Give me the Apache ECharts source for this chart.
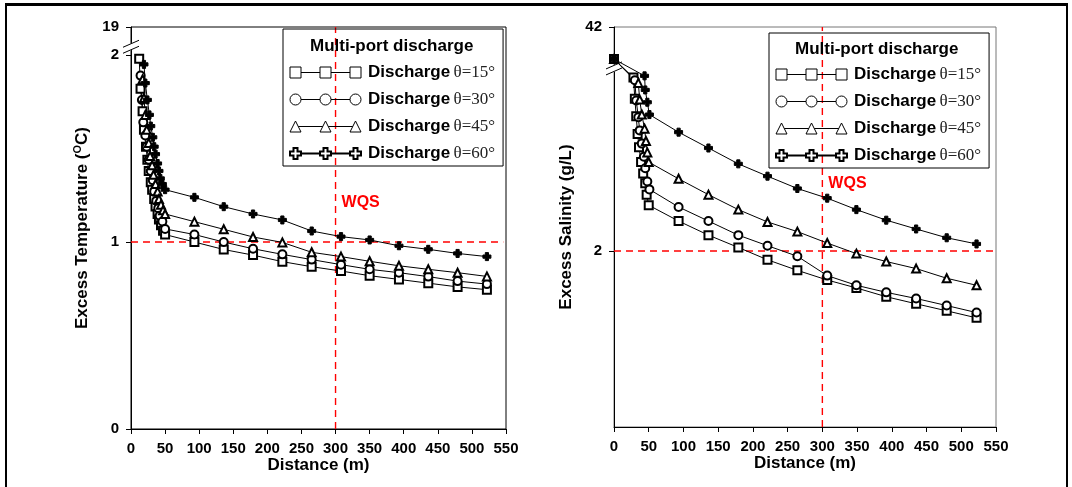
<!DOCTYPE html>
<html><head><meta charset="utf-8">
<script src="https://cdn.jsdelivr.net/npm/echarts@6/dist/echarts.min.js"></script>
<style>
html,body{margin:0;padding:0;background:#fff;overflow:hidden;}
#frame{position:absolute;left:5px;top:3px;width:1063px;height:540px;box-sizing:border-box;border:2px solid #000;border-top-width:3px;border-bottom:none;}
#chart{position:absolute;left:0;top:0;width:1072px;height:487px;}
</style></head><body>
<div id="frame"></div><div id="chart"></div>
<script>
// ---------- data (distance m, value) ----------
const seriesNames = ['Discharge θ=15°', 'Discharge θ=30°', 'Discharge θ=45°', 'Discharge θ=60°'];
const xTicks = [0, 550, 50];                 // min, max, step of distance axis
const tempTickLabels = ['0', '1', '2', '19'];
const salTickLabels = ['2', '42'];

const temp15 = [[12,1.98],[14,1.82],[17,1.70],[19,1.60],[22,1.51],[24,1.44],[26,1.38],[29,1.32],[31,1.28],[34,1.23],[36,1.19],[39,1.15],[41,1.12],[44,1.09],[47,1.06],[50,1.04],[93,1.00],[136,0.96],[179,0.93],[222,0.895],[265,0.868],[308,0.845],[350,0.82],[393,0.80],[436,0.78],[479,0.76],[522,0.745]];
const temp30 = [[14,1.89],[16,1.76],[18,1.64],[21,1.57],[23,1.51],[26,1.44],[29,1.38],[32,1.33],[34,1.27],[37,1.22],[40,1.18],[42,1.14],[46,1.11],[50,1.07],[93,1.04],[136,1.00],[179,0.964],[222,0.934],[265,0.906],[308,0.879],[350,0.854],[393,0.836],[436,0.815],[479,0.791],[522,0.775]];
const temp45 = [[17,1.87],[19,1.77],[21,1.68],[23,1.60],[26,1.53],[28,1.46],[31,1.41],[33,1.36],[36,1.31],[39,1.27],[41,1.23],[44,1.20],[47,1.17],[50,1.15],[93,1.109],[136,1.068],[179,1.027],[222,0.998],[265,0.945],[308,0.922],[350,0.897],[393,0.873],[436,0.854],[479,0.836],[522,0.816]];
const temp60 = [[19,1.95],[21,1.85],[24,1.76],[27,1.68],[29,1.62],[32,1.56],[34,1.51],[36,1.47],[39,1.42],[41,1.38],[43,1.34],[46,1.31],[50,1.28],[93,1.239],[136,1.189],[179,1.15],[222,1.118],[265,1.059],[308,1.029],[350,1.011],[393,0.98],[436,0.961],[479,0.939],[522,0.922]];

const sal15 = [[0,4.18],[28,3.97],[30,3.73],[32,3.53],[34,3.33],[36,3.18],[39,3.01],[42,2.88],[45,2.77],[47,2.64],[50,2.52],[93,2.34],[136,2.18],[179,2.04],[221,1.90],[264,1.78],[307,1.67],[349,1.58],[392,1.48],[435,1.40],[479,1.32],[522,1.24]];
const sal30 = [[0,4.18],[30,3.94],[32,3.71],[35,3.52],[37,3.37],[40,3.22],[43,3.07],[45,2.94],[48,2.79],[51,2.70],[93,2.50],[136,2.34],[179,2.18],[221,2.06],[264,1.94],[307,1.72],[349,1.61],[392,1.53],[435,1.46],[479,1.38],[522,1.30]];
const sal45 = [[0,4.18],[35,3.91],[37,3.72],[40,3.55],[44,3.39],[46,3.25],[48,3.12],[50,3.01],[93,2.82],[136,2.64],[179,2.47],[221,2.33],[264,2.22],[307,2.09],[349,1.97],[392,1.88],[435,1.80],[479,1.69],[522,1.61]];
const sal60 = [[0,4.18],[44,3.99],[45,3.83],[48,3.69],[51,3.55],[93,3.35],[136,3.17],[179,2.99],[221,2.85],[264,2.71],[307,2.60],[349,2.47],[392,2.35],[435,2.25],[479,2.15],[522,2.08]];

const tempAxisTicks = [0, 1, 2, 2.15];     // 2.15 = top of broken axis (labelled 19)
const salAxisTicks = [2, 4.545];           // 4.545 = top of broken axis (labelled 42)
const wqsX = 300, wqsTemp = 1, wqsSal = 2;
const wqsHorizEnd = [546, 546];            // horizontal WQS line end (distance)
const wqsLabelTemp = [300, 1.21], wqsLabelSal = [300, 2.77];
const breakTemp = 2.047, breakSal = 4.08;
// -----------------------------------------------

const FONT = '"Liberation Sans", Arial, sans-serif';
const SERIF = '"Liberation Serif", "Times New Roman", serif';
const PLUS = 'path://M3,0H7V3H10V7H7V10H3V7H0V3H3Z';
const symbols = ['emptyRect', 'emptyCircle', 'emptyTriangle', PLUS];
const symSizes = [8, 8, 8, 8];
const RED = '#ff0000';

const legendIcons = [
  'path://M0,0H11V11H0Z M11,5.5H30 M30,0H41V11H30Z M41,5.5H60 M60,0H71V11H60Z',
  'path://M0,5.5A5.5,5.5 0 1 0 11,5.5A5.5,5.5 0 1 0 0,5.5Z M11,5.5H30 M30,5.5A5.5,5.5 0 1 0 41,5.5A5.5,5.5 0 1 0 30,5.5Z M41,5.5H60 M60,5.5A5.5,5.5 0 1 0 71,5.5A5.5,5.5 0 1 0 60,5.5Z',
  'path://M0,11L5.5,0L11,11Z M8.25,5.5H32.75 M30,11L35.5,0L41,11Z M38.25,5.5H62.75 M60,11L65.5,0L71,11Z',
  'path://M3.5,0H7.5V3.5H11V7.5H7.5V11H3.5V7.5H0V3.5H3.5Z M11,5.5H30 M33.5,0H37.5V3.5H41V7.5H37.5V11H33.5V7.5H30V3.5H33.5Z M41,5.5H60 M63.5,0H67.5V3.5H71V7.5H67.5V11H63.5V7.5H60V3.5H63.5Z'
];

function mkSeries(name, data, gi, k) {
  return {
    type: 'line', name, data, xAxisIndex: gi, yAxisIndex: gi,
    symbol: symbols[k], symbolSize: symSizes[k], showSymbol: true,
    lineStyle: { color: '#000', width: 1 },
    itemStyle: { color: '#000', borderColor: '#000', borderWidth: 1 },
    emphasis: { disabled: true }, silent: true, z: 3
  };
}

function wqsSeries(gi, yVal, yMax, hEnd, labelCoord) {
  const base = {
    type: 'line', xAxisIndex: gi, yAxisIndex: gi, symbol: 'none', silent: true,
    lineStyle: { color: RED, type: [7, 5], width: 1.4 }, itemStyle: { color: RED },
    emphasis: { disabled: true }, z: 2
  };
  return [
    Object.assign({}, base, { name: 'WQS-v' + gi, data: [[wqsX, 0], [wqsX, yMax]],
      markPoint: {
        silent: true, symbol: 'circle', symbolSize: 0,
        data: [{ coord: labelCoord }],
        label: { show: true, position: 'right', distance: 6, formatter: 'WQS',
          color: RED, fontWeight: 'bold', fontSize: 16, fontFamily: FONT }
      } }),
    Object.assign({}, base, { name: 'WQS-h' + gi, data: [[0, yVal], [hEnd, yVal]] })
  ];
}

const tempData = [temp15, temp30, temp45, temp60];
const salData = [sal15, sal30, sal45, sal60];
const series = [];
series.push(...wqsSeries(0, wqsTemp, tempAxisTicks[tempAxisTicks.length - 1], wqsHorizEnd[0], wqsLabelTemp));
series.push(...wqsSeries(1, wqsSal, salAxisTicks[salAxisTicks.length - 1], wqsHorizEnd[1], wqsLabelSal));
tempData.forEach((d, k) => series.push(mkSeries(seriesNames[k], d, 0, k)));
salData.forEach((d, k) => series.push(mkSeries(seriesNames[k], d, 1, k)));

function xAxisCfg(gi) {
  return {
    type: 'value', gridIndex: gi, min: xTicks[0], max: xTicks[1], interval: xTicks[2],
    axisLine: { show: true, onZero: false, lineStyle: { color: '#000', width: 1 } },
    axisTick: { show: true, inside: false, length: 5, lineStyle: { color: '#000' } },
    axisLabel: { color: '#000', fontFamily: FONT, fontWeight: 'bold', fontSize: 15, margin: 12,
      showMinLabel: true, showMaxLabel: true },
    splitLine: { show: false },
    name: 'Distance (m)', nameLocation: 'middle', nameGap: 28, nameMoveOverlap: false,
    nameTextStyle: { color: '#000', fontFamily: FONT, fontWeight: 'bold', fontSize: 17 }
  };
}
function yAxisCfg(gi, max, ticks, labels, name, interval) {
  return {
    type: 'value', gridIndex: gi, min: 0, max: max, interval: interval,
    axisLine: { show: true, onZero: false, lineStyle: { color: '#000', width: 1 } },
    axisTick: { show: true, length: 5, customValues: ticks, lineStyle: { color: '#000' } },
    axisLabel: { color: '#000', fontFamily: FONT, fontWeight: 'bold', fontSize: 15, margin: 12,
      customValues: ticks,
      formatter: v => { const i = ticks.findIndex(t => Math.abs(t - v) < 1e-6); return i >= 0 ? labels[i] : ''; } },
    splitLine: { show: false },
    name: name, nameLocation: 'middle', nameGap: 39, nameMoveOverlap: false,
    nameTextStyle: { color: '#000', fontFamily: FONT, fontWeight: 'bold', fontSize: 17,
      rich: { s: { fontFamily: FONT, fontWeight: 'bold', fontSize: 11, verticalAlign: 'top', lineHeight: 20 } } }
  };
}

function legendCfg(left, top, padding) {
  return {
    show: true, orient: 'vertical', left, top, padding,
    itemWidth: 71, itemHeight: 11, itemGap: 10, selectedMode: false,
    borderColor: '#000', borderWidth: 1, backgroundColor: 'transparent',
    data: seriesNames.map((n, k) => ({
      name: n, icon: legendIcons[k],
      itemStyle: { color: '#fff', borderColor: '#000', borderWidth: k === 3 ? 2 : 1 }
    })),
    formatter: n => '{b|Discharge} {t|' + n.replace('Discharge ', '') + '}',
    textStyle: {
      rich: {
        b: { fontFamily: FONT, fontWeight: 'bold', fontSize: 17, color: '#000', lineHeight: 20, padding: [0, 0, 0, 2] },
        t: { fontFamily: SERIF, fontSize: 17, color: '#222', lineHeight: 20 }
      }
    }
  };
}

const chart = echarts.init(document.getElementById('chart'), null, { renderer: 'canvas' });
const option = {
  animation: false,
  backgroundColor: 'transparent',
  title: [
    { text: 'Multi-port discharge', left: 310, top: 38, padding: 0,
      textStyle: { fontFamily: FONT, fontWeight: 'bold', fontSize: 17, color: '#000' } },
    { text: 'Multi-port discharge', left: 795, top: 41, padding: 0,
      textStyle: { fontFamily: FONT, fontWeight: 'bold', fontSize: 17, color: '#000' } }
  ],
  legend: [legendCfg(283, 29, [35, 8, 4, 6]), legendCfg(769, 33, [33, 8, 4, 6])],
  grid: [
    { left: 131, top: 27, width: 375, height: 402, show: true, borderColor: '#000', borderWidth: 1, outerBoundsMode: 'none', containLabel: false },
    { left: 614, top: 27, width: 382, height: 400, show: true, borderColor: '#777', borderWidth: 1, outerBoundsMode: 'none', containLabel: false }
  ],
  xAxis: [xAxisCfg(0), xAxisCfg(1)],
  yAxis: [
    yAxisCfg(0, tempAxisTicks[tempAxisTicks.length - 1], tempAxisTicks, tempTickLabels, 'Excess Temperature ({s|O}C)', 1),
    yAxisCfg(1, salAxisTicks[salAxisTicks.length - 1], salAxisTicks, salTickLabels, 'Excess Salinity (g/L)', 2)
  ],
  series
};
chart.setOption(option);

// axis-break marks "//" positioned through the axes' own scales
function breakMark(gi, v) {
  const p = chart.convertToPixel({ gridIndex: gi }, [0, v]);
  const x = p[0], y = p[1];
  const mk = dy => ({ type: 'line', silent: true, z: 10,
    shape: { x1: x - 8, y1: y + dy + 4, x2: x + 8, y2: y + dy - 3 },
    style: { stroke: '#000', lineWidth: 1 } });
  return [
    { type: 'polygon', silent: true, z: 9,
      shape: { points: [[x - 2, y - 2], [x + 2, y - 4], [x + 2, y + 3], [x - 2, y + 5]] },
      style: { fill: '#fff' } },
    mk(-3), mk(3)
  ];
}
chart.setOption({ graphic: [].concat(breakMark(0, breakTemp), breakMark(1, breakSal)) });
</script></body></html>
